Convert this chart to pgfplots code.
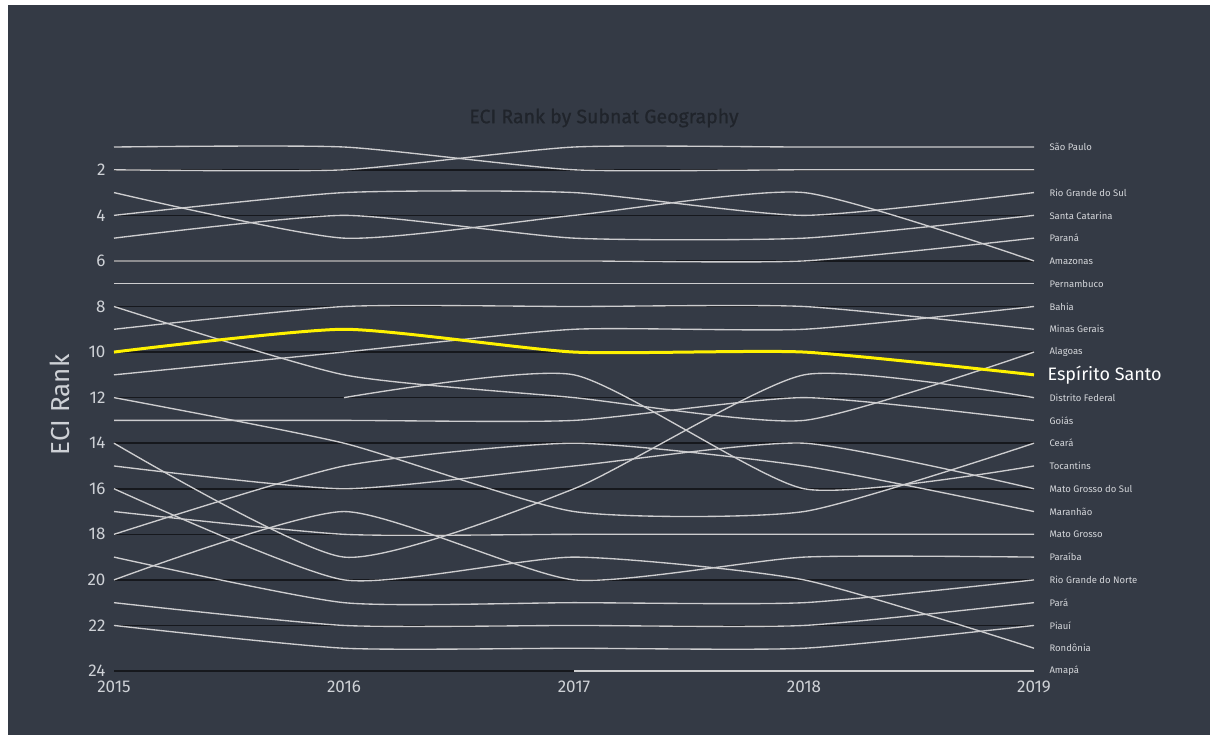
\documentclass[border=0pt]{standalone}
\usepackage{fontspec}
\setmainfont{Fira Sans}
\newfontfamily\titlefont[FakeBold=0.7]{Fira Sans}
\usepackage{pgfplots}
\pgfplotsset{compat=1.18}
\definecolor{bgc}{RGB}{52,58,69}
\definecolor{gridc}{RGB}{22,24,29}
\definecolor{linec}{RGB}{205,205,207}
\definecolor{tickc}{RGB}{206,209,214}
\definecolor{titlec}{RGB}{32,36,43}
\definecolor{labc}{RGB}{212,214,218}
\begin{document}
\begin{tikzpicture}[x=1pt,y=1pt]
\fill[white] (0,0) rectangle (1216,-740);
\fill[bgc] (8,-5) rectangle (1210,-735);
\node[text=titlec, font=\titlefont\fontsize{19.5}{24}\selectfont] at (604,-118) {ECI Rank by Subnat Geography};
\node[text=tickc, rotate=90, font=\fontsize{26}{30}\selectfont] at (60,-405) {ECI Rank};
\begin{axis}[
  at={(114pt,-147pt)}, anchor=north west,
  scale only axis, width=920pt, height=524pt,
  xmin=2015, xmax=2019, ymin=1, ymax=24, y dir=reverse,
  clip=false,
  axis line style={draw=none},
  major tick length=0pt,
  xtick={2015,2016,2017,2018,2019},
  xticklabels={2015,2016,2017,2018,2019},
  ytick={2,4,...,24},
  ymajorgrids,
  grid style={line width=1.5pt, color=gridc},
  /pgf/number format/assume math mode=true,
  ticklabel style={text=tickc, font=\fontsize{17}{20}\selectfont},
  yticklabel style={xshift=-5pt},
  xticklabel style={yshift=-6pt},
  every axis plot/.append style={smooth, tension=0.35},
]
\pgfplotsset{gl/.style={color=linec, line width=1.35pt}}
% (unlabelled)
\addplot[gl] coordinates {(2015,1)(2016,1)(2017,2)(2018,2)(2019,2)};
% Sao Paulo
\addplot[gl] coordinates {(2015,2)(2016,2)(2017,1)(2018,1)(2019,1)};
% Rio Grande do Sul
\addplot[gl] coordinates {(2015,4)(2016,3)(2017,3)(2018,4)(2019,3)};
% Santa Catarina
\addplot[gl] coordinates {(2015,5)(2016,4)(2017,5)(2018,5)(2019,4)};
% Parana
\addplot[gl] coordinates {(2015,6)(2016,6)(2017,6)(2018,6)(2019,5)};
% Amazonas
\addplot[gl] coordinates {(2015,3)(2016,5)(2017,4)(2018,3)(2019,6)};
% Pernambuco
\addplot[gl] coordinates {(2015,7)(2016,7)(2017,7)(2018,7)(2019,7)};
% Bahia
\addplot[gl] coordinates {(2015,11)(2016,10)(2017,9)(2018,9)(2019,8)};
% Minas Gerais
\addplot[gl] coordinates {(2015,9)(2016,8)(2017,8)(2018,8)(2019,9)};
% Alagoas
\addplot[gl] coordinates {(2015,8)(2016,11)(2017,12)(2018,13)(2019,10)};
% Distrito Federal
\addplot[gl] coordinates {(2015,14)(2016,19)(2017,16)(2018,11)(2019,12)};
% Goias
\addplot[gl] coordinates {(2015,13)(2016,13)(2017,13)(2018,12)(2019,13)};
% Ceara
\addplot[gl] coordinates {(2015,12)(2016,14)(2017,17)(2018,17)(2019,14)};
% Tocantins
\addplot[gl] coordinates {(2016,12)(2017,11)(2018,16)(2019,15)};
% Mato Grosso do Sul
\addplot[gl] coordinates {(2015,15)(2016,16)(2017,15)(2018,14)(2019,16)};
% Maranhao
\addplot[gl] coordinates {(2015,18)(2016,15)(2017,14)(2018,15)(2019,17)};
% Mato Grosso
\addplot[gl] coordinates {(2015,17)(2016,18)(2017,18)(2018,18)(2019,18)};
% Paraiba
\addplot[gl] coordinates {(2015,20)(2016,17)(2017,20)(2018,19)(2019,19)};
% Rio Grande do Norte
\addplot[gl] coordinates {(2015,19)(2016,21)(2017,21)(2018,21)(2019,20)};
% Para
\addplot[gl] coordinates {(2015,21)(2016,22)(2017,22)(2018,22)(2019,21)};
% Piaui
\addplot[gl] coordinates {(2015,22)(2016,23)(2017,23)(2018,23)(2019,22)};
% Rondonia
\addplot[gl] coordinates {(2015,16)(2016,20)(2017,19)(2018,20)(2019,23)};
% Amapa
\addplot[gl] coordinates {(2017,24)(2018,24)(2019,24)};
% Espirito Santo
\addplot[color=yellow, line width=3pt] coordinates {(2015,10)(2016,9)(2017,10)(2018,10)(2019,11)};

\tikzset{lab/.style={anchor=west, xshift=12pt, text=labc, font=\fontsize{9.5}{11}\selectfont}}
\node[lab] at (axis cs:2019,1) {São Paulo};
\node[lab] at (axis cs:2019,3) {Rio Grande do Sul};
\node[lab] at (axis cs:2019,4) {Santa Catarina};
\node[lab] at (axis cs:2019,5) {Paraná};
\node[lab] at (axis cs:2019,6) {Amazonas};
\node[lab] at (axis cs:2019,7) {Pernambuco};
\node[lab] at (axis cs:2019,8) {Bahia};
\node[lab] at (axis cs:2019,9) {Minas Gerais};
\node[lab] at (axis cs:2019,10) {Alagoas};
\node[anchor=west, xshift=10pt, text=white, font=\fontsize{18}{21}\selectfont] at (axis cs:2019,11) {Espírito Santo};
\node[lab] at (axis cs:2019,12) {Distrito Federal};
\node[lab] at (axis cs:2019,13) {Goiás};
\node[lab] at (axis cs:2019,14) {Ceará};
\node[lab] at (axis cs:2019,15) {Tocantins};
\node[lab] at (axis cs:2019,16) {Mato Grosso do Sul};
\node[lab] at (axis cs:2019,17) {Maranhão};
\node[lab] at (axis cs:2019,18) {Mato Grosso};
\node[lab] at (axis cs:2019,19) {Paraíba};
\node[lab] at (axis cs:2019,20) {Rio Grande do Norte};
\node[lab] at (axis cs:2019,21) {Pará};
\node[lab] at (axis cs:2019,22) {Piauí};
\node[lab] at (axis cs:2019,23) {Rondônia};
\node[lab] at (axis cs:2019,24) {Amapá};
\end{axis}
\end{tikzpicture}
\end{document}
